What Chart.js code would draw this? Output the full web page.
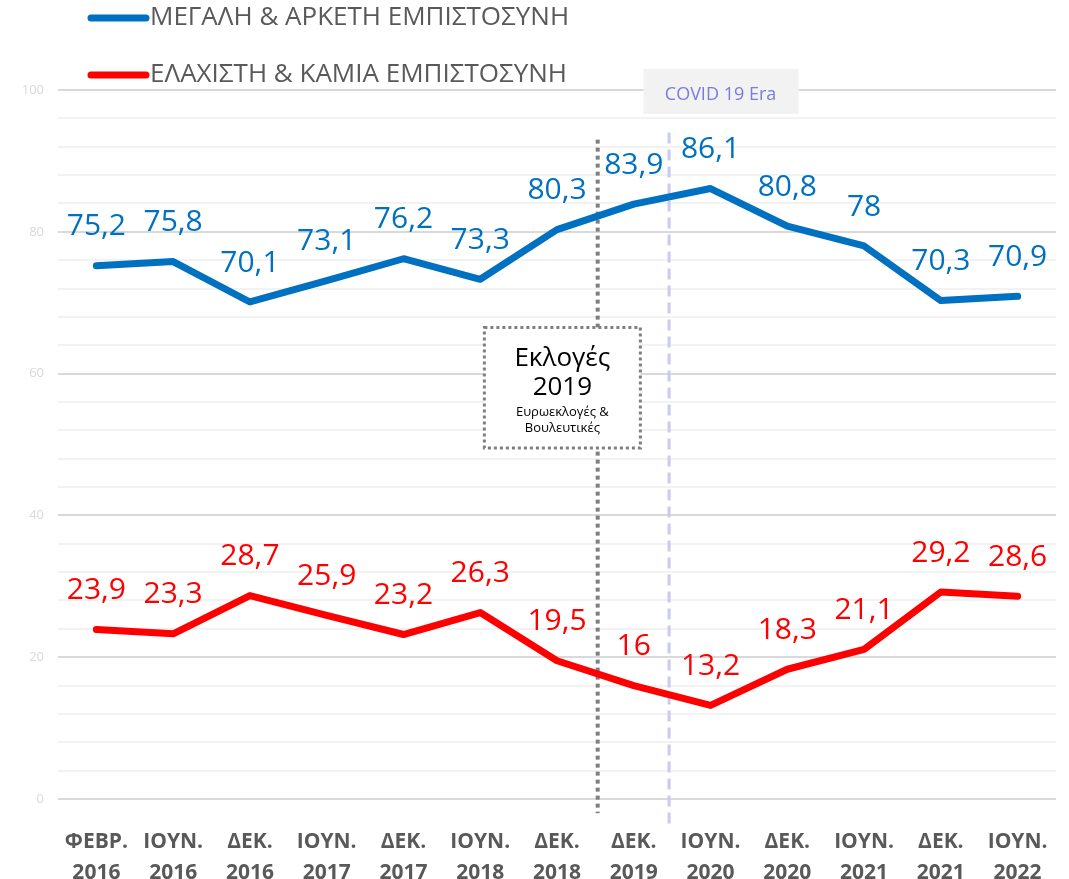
<!DOCTYPE html>
<html>
<head>
<meta charset="utf-8">
<script src="https://cdn.jsdelivr.net/npm/chart.js@4.4.1/dist/chart.umd.min.js"></script>
<style>
  html, body { margin: 0; padding: 0; background: #fff; }
  #wrap { width: 1069px; height: 879px; position: relative; }
</style>
</head>
<body>
<div id="wrap"><canvas id="trustChart"></canvas></div>
<script>
// τιμές από το γράφημα
const periods = [
    ['ΦΕΒΡ.', '2016'], ['ΙΟΥΝ.', '2016'], ['ΔΕΚ.', '2016'], ['ΙΟΥΝ.', '2017'],
    ['ΔΕΚ.', '2017'], ['ΙΟΥΝ.', '2018'], ['ΔΕΚ.', '2018'], ['ΔΕΚ.', '2019'],
    ['ΙΟΥΝ.', '2020'], ['ΔΕΚ.', '2020'], ['ΙΟΥΝ.', '2021'], ['ΔΕΚ.', '2021'],
    ['ΙΟΥΝ.', '2022']
];
const highTrust = [75.2, 75.8, 70.1, 73.1, 76.2, 73.3, 80.3, 83.9, 86.1, 80.8, 78, 70.3, 70.9];
const lowTrust = [23.9, 23.3, 28.7, 25.9, 23.2, 26.3, 19.5, 16, 13.2, 18.3, 21.1, 29.2, 28.6];
const seriesNames = ['ΜΕΓΑΛΗ & ΑΡΚΕΤΗ ΕΜΠΙΣΤΟΣΥΝΗ', 'ΕΛΑΧΙΣΤΗ & ΚΑΜΙΑ ΕΜΠΙΣΤΟΣΥΝΗ'];

const FONT = "'Open Sans', sans-serif";

// κάθετες γραμμές + κουτιά σχολίων
const markersPlugin = {
    id: 'markers',
    beforeDatasetsDraw(chart) {
        const { ctx, scales: { x, y } } = chart;
        ctx.save();

        // εκλογές 2019 (διακεκομμένη γκρι)
        const xe = x.getPixelForValue(6.53);
        ctx.strokeStyle = '#7f7f7f';
        ctx.lineWidth = 4;
        ctx.setLineDash([4, 4]);
        ctx.beginPath();
        ctx.moveTo(xe, y.getPixelForValue(93));
        ctx.lineTo(xe, y.getPixelForValue(-2));
        ctx.stroke();

        // covid (μωβ)
        const xc = x.getPixelForValue(7.46);
        ctx.strokeStyle = '#c9c9f2';
        ctx.lineWidth = 3;
        ctx.setLineDash([11, 6]);
        ctx.beginPath();
        ctx.moveTo(xc, y.getPixelForValue(94));
        ctx.lineTo(xc, y.getPixelForValue(-3.5));
        ctx.stroke();

        // κουτί εκλογών
        const bx = x.getPixelForValue(6.07);
        const top = y.getPixelForValue(66.5), bot = y.getPixelForValue(49.5);
        ctx.setLineDash([3, 3]);
        ctx.fillStyle = '#fff';
        ctx.fillRect(bx - 78, top, 156, bot - top);
        ctx.strokeStyle = '#7f7f7f';
        ctx.lineWidth = 3;
        ctx.strokeRect(bx - 78, top, 156, bot - top);
        ctx.setLineDash([]);
        ctx.fillStyle = '#000';
        ctx.textAlign = 'center';
        ctx.textBaseline = 'middle';
        ctx.font = '26px ' + FONT;
        ctx.fillText('Εκλογές', bx, top + 31);
        ctx.fillText('2019', bx, top + 60);
        ctx.font = '13px ' + FONT;
        ctx.fillText('Ευρωεκλογές &', bx, top + 85);
        ctx.fillText('Βουλευτικές', bx, top + 101);

        // covid era
        const cx = x.getPixelForValue(8.13);
        ctx.fillStyle = '#f2f2f2';
        ctx.fillRect(cx - 77, 69, 155, 45);
        ctx.fillStyle = '#7b7bdc';
        ctx.font = '18px ' + FONT;
        ctx.fillText('COVID 19 Era', cx, 95);
        ctx.restore();
    }
};

// ετικέτες τιμών πάνω από τα σημεία
const valueLabels = {
    id: 'valueLabels',
    afterDatasetsDraw(chart) {
        const ctx = chart.ctx;
        ctx.save();
        ctx.font = '30px ' + FONT;
        ctx.textAlign = 'center';
        ctx.textBaseline = 'middle';
        chart.data.datasets.forEach((ds, i) => {
            ctx.fillStyle = ds.borderColor;
            chart.getDatasetMeta(i).data.forEach((pt, j) => {
                ctx.fillText(String(ds.data[j]).replace('.', ','), pt.x, pt.y - 39);
            });
        });
        ctx.restore();
    }
};

// υπόμνημα σε δύο γραμμές πάνω αριστερά
const topLegend = {
    id: 'topLegend',
    afterDraw(chart) {
        const ctx = chart.ctx;
        ctx.save();
        ctx.font = '26px ' + FONT;
        ctx.textBaseline = 'middle';
        ctx.lineCap = 'round';
        chart.data.datasets.forEach((ds, i) => {
            const yy = 18 + i * 57;
            ctx.strokeStyle = ds.borderColor;
            ctx.lineWidth = 7;
            ctx.beginPath();
            ctx.moveTo(91, yy);
            ctx.lineTo(146, yy);
            ctx.stroke();
            ctx.fillStyle = '#595959';
            ctx.fillText(ds.label, 150, yy);
        });
        ctx.restore();
    }
};

new Chart(document.getElementById('trustChart'), {
    type: 'line',
    data: {
        labels: periods,
        datasets: [{
            label: seriesNames[0],
            data: highTrust,
            borderColor: '#0070C0',
            borderWidth: 7
        }, {
            label: seriesNames[1],
            data: lowTrust,
            borderColor: '#FF0000',
            borderWidth: 7
        }]
    },
    options: {
        responsive: true,
        maintainAspectRatio: false,
        animation: false,
        layout: { padding: { top: 90, right: 13, left: 0, bottom: 0 } },
        elements: {
            point: { radius: 0, hoverRadius: 0 },
            line: { tension: 0, borderCapStyle: 'round', borderJoinStyle: 'round' }
        },
        plugins: {
            legend: { display: false },
            tooltip: { enabled: false }
        },
        scales: {
            x: {
                offset: true,
                grid: { display: false },
                border: { display: false },
                afterFit: s => { s.height = 80; },
                ticks: {
                    padding: 20,
                    maxRotation: 0,
                    autoSkip: false,
                    color: '#595959',
                    font: { family: FONT, size: 21, weight: 'bold', lineHeight: 1.45 }
                }
            },
            y: {
                min: 0,
                max: 100,
                afterFit: s => { s.width = 58; },
                border: { display: false },
                grid: {
                    drawTicks: false,
                    color: c => (c.tick && c.tick.value % 20 === 0) ? '#d9d9d9' : '#f2f2f2',
                    lineWidth: 2
                },
                ticks: {
                    stepSize: 4,
                    autoSkip: false,
                    padding: 14,
                    color: '#d9d9d9',
                    font: { family: FONT, size: 13 },
                    callback: v => v % 20 === 0 ? v : ''
                }
            }
        }
    },
    plugins: [markersPlugin, valueLabels, topLegend]
});
</script>
</body>
</html>
